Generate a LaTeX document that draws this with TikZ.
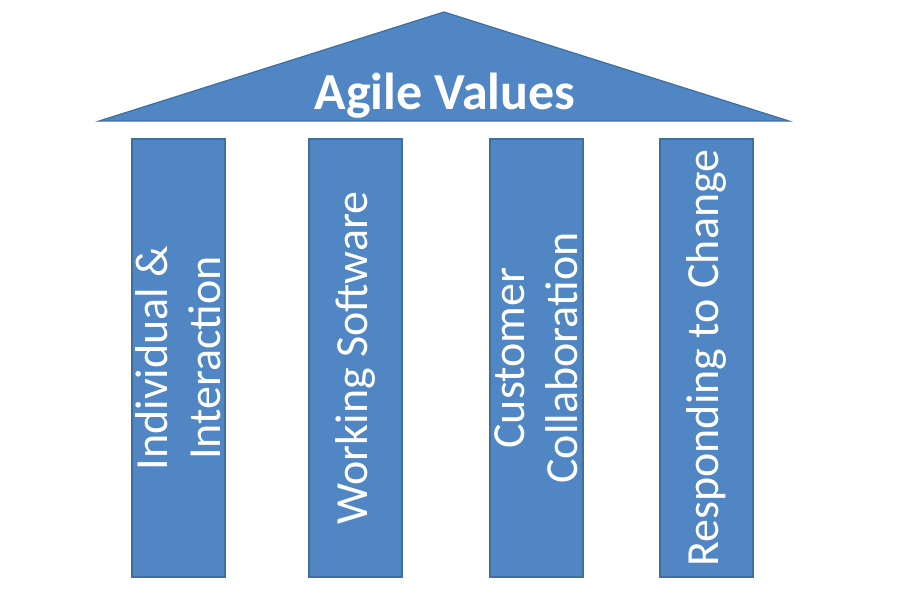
\documentclass[tikz,border=0pt]{standalone}
\usepackage{fontspec}
\setmainfont{Carlito}
\definecolor{agfill}{HTML}{4F86C3}
\definecolor{agline}{HTML}{3F6E9F}
\begin{document}
\begin{tikzpicture}[x=1pt,y=-1pt,
  pillar/.style={draw=agline,fill=agfill,line width=1.2pt,rotate=90,
    minimum width=438pt,minimum height=93pt,inner sep=0pt,
    text=white,font=\fontsize{46}{53}\selectfont,align=center},
  roof/.style={draw=agline,fill=agfill,line width=1.2pt,line join=miter}]
\useasboundingbox (0,0) rectangle (900,591);
\coordinate (apex) at (444,12);
\coordinate (bl) at (99,121);
\coordinate (br) at (789,121);
\draw[roof] (bl) -- (apex) -- (br) -- cycle;
\node[text=white,font=\fontsize{52}{62}\bfseries\selectfont,anchor=base] (title) at (445,110) {Agile Values};
\node[pillar] (p1) at (178.5,358) {Individual \&\\Interaction};
\node[pillar] (p2) at (355.5,358) {Working Software};
\node[pillar] (p3) at (536.5,358) {Customer\\Collaboration};
\node[pillar] (p4) at (706.5,358) {Responding to Change};
\end{tikzpicture}
\end{document}
